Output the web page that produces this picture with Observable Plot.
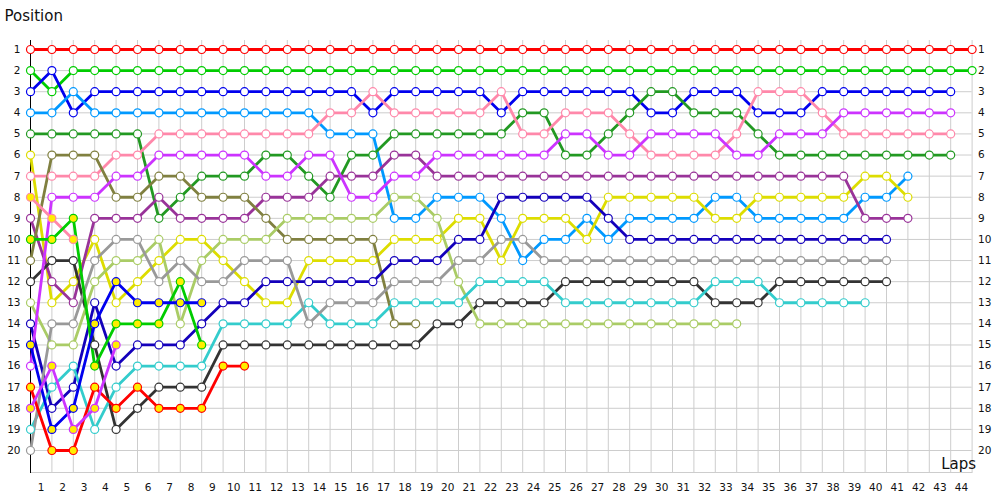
<!DOCTYPE html>
<html><head><meta charset="utf-8">
<script src="https://cdn.jsdelivr.net/npm/d3@7"></script>
<script src="https://cdn.jsdelivr.net/npm/@observablehq/plot@0.6"></script>
<style>body{margin:0;background:#fff}</style>
</head><body><div id="chart"></div>
<script>
// Lap numbers (0 = grid) and axis ticks
const laps = [0,1,2,3,4,5,6,7,8,9,10,11,12,13,14,15,16,17,18,19,20,21,22,23,24,25,26,27,28,29,30,31,32,33,34,35,36,37,38,39,40,41,42,43,44];
const lapTicks = [1,2,3,4,5,6,7,8,9,10,11,12,13,14,15,16,17,18,19,20,21,22,23,24,25,26,27,28,29,30,31,32,33,34,35,36,37,38,39,40,41,42,43,44];
const positionTicks = [1,2,3,4,5,6,7,8,9,10,11,12,13,14,15,16,17,18,19,20];

// Position of each driver per lap, starting at lap 0
const posRed        = [1,1,1,1,1,1,1,1,1,1,1,1,1,1,1,1,1,1,1,1,1,1,1,1,1,1,1,1,1,1,1,1,1,1,1,1,1,1,1,1,1,1,1,1,1];
const posGreen      = [2,3,2,2,2,2,2,2,2,2,2,2,2,2,2,2,2,2,2,2,2,2,2,2,2,2,2,2,2,2,2,2,2,2,2,2,2,2,2,2,2,2,2,2,2];
const posBlue       = [3,2,4,3,3,3,3,3,3,3,3,3,3,3,3,3,4,3,3,3,3,3,4,3,3,3,3,3,3,4,4,3,3,3,4,4,4,3,3,3,3,3,3,3];
const posLightBlue  = [4,4,3,4,4,4,4,4,4,4,4,4,4,4,5,5,5,9,9,8,8,8,9,11,10,10,9,10,9,9,9,9,8,8,9,9,9,9,9,8,8,7];
const posDarkGreen  = [5,5,5,5,5,5,9,8,7,7,7,6,6,7,8,6,6,5,5,5,5,5,5,4,4,6,6,5,4,3,3,4,4,4,5,6,6,6,6,6,6,6,6,6];
const posYellow     = [6,13,12,10,13,12,11,10,10,11,12,13,13,11,11,11,11,10,10,10,9,9,11,9,9,9,10,8,8,8,8,8,9,9,8,8,8,8,8,7,7,8];
const posPink       = [7,7,7,7,6,6,5,5,5,5,5,5,5,5,4,4,3,4,4,4,4,4,3,5,5,4,4,4,5,6,6,6,6,5,3,3,3,4,5,5,5,5,5,5];
const posPurple     = [9,12,13,9,9,9,8,9,9,9,9,8,8,8,7,7,7,6,6,7,7,7,7,7,7,7,7,7,7,7,7,7,7,7,7,7,7,7,7,9,9,9];
const posOlive      = [11,6,6,6,8,8,7,7,8,8,8,9,10,10,10,10,10,14,14];
const posBlack      = [12,11,11,15,19,18,17,17,17,15,15,15,15,15,15,15,15,15,15,14,14,13,13,13,13,12,12,12,12,12,12,12,13,13,13,12,12,12,12,12,12];
const posLightOlive = [13,15,15,12,11,11,10,14,11,10,10,10,9,9,9,9,9,8,8,9,12,14,14,14,14,14,14,14,14,14,14,14,14,14];
const posDarkBlue   = [14,18,17,13,16,15,15,15,14,13,13,12,12,12,12,12,12,11,11,11,10,10,8,8,8,8,8,9,10,10,10,10,10,10,10,10,10,10,10,10,10];
const posMagenta    = [16,8,8,8,7,7,6,6,6,6,6,7,7,6,6,8,8,7,7,6,6,6,6,6,6,5,5,6,6,5,5,5,5,6,6,5,5,5,4,4,4,4,4,4];
const posTeal       = [19,17,16,19,17,16,16,16,16,14,14,14,14,13,14,14,14,13,13,13,13,12,12,12,12,13,13,13,13,13,13,13,12,12,12,13,13,13,13,13];
const posGray       = [20,14,14,11,10,10,12,11,12,12,11,11,11,14,13,13,13,12,12,12,11,11,10,10,11,11,11,11,11,11,11,11,11,11,11,11,11,11,11,11,11];
// Retired drivers (drawn with yellow-filled markers)
const posPinkOut    = [8,9,10];
const posGreenOut   = [10,10,9,16,14,14,14,12,15];
const posBlueOut    = [15,19,18,14,12,13,13,13,13];
const posRedOut     = [17,20,20,17,18,17,18,18,18,16,16];
const posMagentaOut = [18,16,19,18,15];

const series = [
  {name: "Red", color: "#ff0000", out: false, pos: posRed},
  {name: "Green", color: "#00cc00", out: false, pos: posGreen},
  {name: "Blue", color: "#0000ee", out: false, pos: posBlue},
  {name: "LightBlue", color: "#0099ff", out: false, pos: posLightBlue},
  {name: "DarkGreen", color: "#229922", out: false, pos: posDarkGreen},
  {name: "Yellow", color: "#dddd00", out: false, pos: posYellow},
  {name: "Pink", color: "#ff88aa", out: false, pos: posPink},
  {name: "Purple", color: "#993399", out: false, pos: posPurple},
  {name: "Olive", color: "#808040", out: false, pos: posOlive},
  {name: "Black", color: "#333333", out: false, pos: posBlack},
  {name: "LightOlive", color: "#aacc66", out: false, pos: posLightOlive},
  {name: "DarkBlue", color: "#1400bb", out: false, pos: posDarkBlue},
  {name: "Magenta", color: "#cc33ff", out: false, pos: posMagenta},
  {name: "Teal", color: "#33cccc", out: false, pos: posTeal},
  {name: "Gray", color: "#999999", out: false, pos: posGray},
  {name: "PinkOut", color: "#ff88aa", out: true, pos: posPinkOut},
  {name: "GreenOut", color: "#00cc00", out: true, pos: posGreenOut},
  {name: "BlueOut", color: "#0000ee", out: true, pos: posBlueOut},
  {name: "RedOut", color: "#ff0000", out: true, pos: posRedOut},
  {name: "MagentaOut", color: "#cc33ff", out: true, pos: posMagentaOut}
];

const rows = series.flatMap(s => s.pos.map((p, i) => ({
  driver: s.name, lap: laps[i], pos: p, color: s.color,
  fill: s.out ? "#ffee00" : "#ffffff"
})));

const font = "'DejaVu Sans', sans-serif";
const chart = Plot.plot({
  width: 1000,
  height: 500,
  marginTop: 40,
  marginBottom: 28,
  marginLeft: 30,
  marginRight: 28.4,
  x: {domain: [0, 44]},
  y: {domain: [1, 20], range: [49, 450]},
  color: {type: "identity"},
  style: {fontFamily: font, fontSize: "10.5px", background: "#fff", color: "#111"},
  marks: [
    Plot.gridX(laps, {stroke: "#cdcdcd", strokeOpacity: 1}),
    Plot.gridY(positionTicks, {stroke: "#cdcdcd", strokeOpacity: 1}),
    Plot.frame({anchor: "bottom", stroke: "#cdcdcd"}),
    Plot.frame({anchor: "left", stroke: "#000"}),
    Plot.axisY(positionTicks, {anchor: "left", tickSize: 0, tickPadding: 10, label: null}),
    Plot.axisY(positionTicks, {anchor: "right", tickSize: 0, tickPadding: 6, label: null}),
    Plot.axisX(lapTicks, {anchor: "bottom", tickSize: 0, tickPadding: 11, dx: -10.7, label: null}),
    Plot.line(rows, {x: "lap", y: "pos", z: "driver", stroke: "color", strokeWidth: 2.8, strokeLinejoin: "round"}),
    Plot.dot(rows, {x: "lap", y: "pos", r: 4, stroke: "color", fill: "fill", strokeWidth: 1.2}),
    Plot.text(["Position"], {frameAnchor: "top-left", text: d => d, textAnchor: "start", dx: -26, dy: -30, fontSize: 15}),
    Plot.text(["Laps"], {frameAnchor: "bottom-right", text: d => d, textAnchor: "end", dx: 4, dy: -4, fontSize: 15})
  ]
});
document.getElementById("chart").appendChild(chart);
</script>
</body></html>
